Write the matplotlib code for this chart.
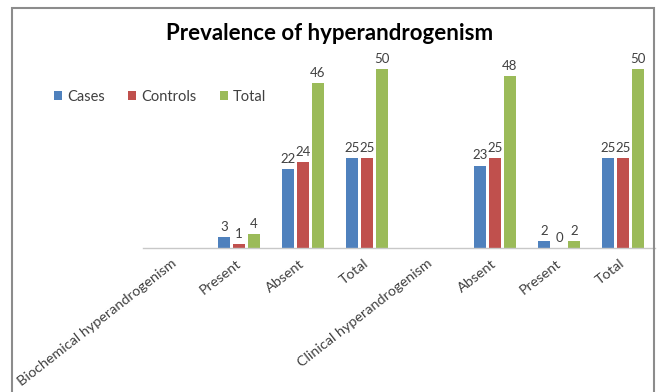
import numpy as np
import matplotlib
matplotlib.use("Agg")
import matplotlib.pyplot as plt
from matplotlib.patches import Rectangle

plt.rcParams['font.family'] = ['Lato', 'DejaVu Sans']

categories = ["Biochemical hyperandrogenism", "Present", "Absent", "Total",
              "Clinical hyperandrogenism", "Absent", "Present", "Total"]
cases = [np.nan, 3, 22, 25, np.nan, 23, 2, 25]
controls = [np.nan, 1, 24, 25, np.nan, 25, 0, 25]
total = [np.nan, 4, 46, 50, np.nan, 48, 2, 50]

series = [("Cases", cases, "#4F81BD"),
          ("Controls", controls, "#C0504D"),
          ("Total", total, "#9BBB59")]

W, H = 664, 392
fig = plt.figure(figsize=(W / 100, H / 100), dpi=100)
ax = fig.add_axes([143 / W, 1 - 248 / H, (655 - 143) / W, (248 - 33) / H])

x = np.arange(len(categories))
offset = 0.234
width = 0.2
text_col = "#404040"

for i, (name, vals, col) in enumerate(series):
    v = np.array(vals, dtype=float)
    pos = x + (i - 1) * offset
    ax.bar(pos, v, width=width, color=col, label=name)
    for px, pv in zip(pos, v):
        if np.isnan(pv):
            continue
        ax.annotate(f"{int(pv)}", (px, pv), xytext=(0, 3), textcoords="offset points",
                    ha="center", va="bottom", fontsize=9.5, color=text_col)

ax.set_xlim(-0.5, len(categories) - 0.5)
ax.set_ylim(0, 60)
for s in ("top", "right", "left"):
    ax.spines[s].set_visible(False)
ax.spines["bottom"].set_color("#c8c8c8")
ax.spines["bottom"].set_linewidth(1.0)
ax.set_yticks([])
ax.set_xticks(x)
ax.set_xticklabels(categories, rotation=38, ha="right", va="center",
                   rotation_mode="anchor", fontsize=10.4, color=text_col)
ax.tick_params(axis="x", length=0, pad=10)

fig.text(330 / W, 1 - 33 / H, "Prevalence of hyperandrogenism", ha="center", va="center",
         fontsize=16, fontweight="bold", color="black")

fig.legend(loc="center left", bbox_to_anchor=(41 / W, 1 - 97 / H), ncol=3, frameon=False,
           fontsize=10.5, handlelength=0.55, handleheight=0.55, handletextpad=0.35,
           columnspacing=1.6, labelcolor=text_col)

fig.patches.append(Rectangle((11.5 / W, -0.1), (653.5 - 11.5) / W, 1.1 - 8.5 / H,
                             transform=fig.transFigure, fill=False,
                             edgecolor="#8c8c8c", linewidth=1.5))

fig.savefig("out.png", dpi=100)
